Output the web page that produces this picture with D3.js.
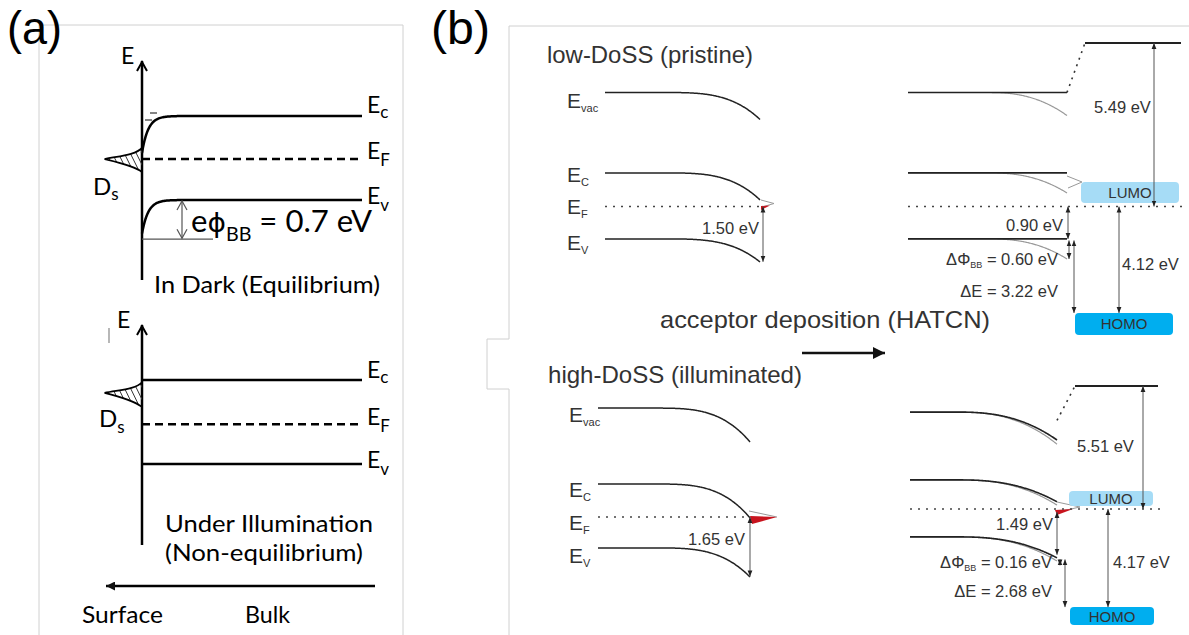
<!DOCTYPE html>
<html><head><meta charset="utf-8">
<script src="https://cdn.jsdelivr.net/npm/d3@7"></script>
<style>html,body{margin:0;padding:0;background:#fff;}svg{display:block;}</style>
</head><body>
<script>
// ================= DATA =================
// Panel (a): schematic energies in eV (bulk valence band = 0)
const aLevelSubs = ["c", "F", "v"];
const aDarkBulk = [1.5, 0.73, 0];
const aDarkSurf = [0.84, 0.73, -0.6];
const aDarkBB = 0.7;                       // eφBB
const aDarkDs = [0.93, 0.73, 0.5];          // surface-state DOS: top, peak, bottom
const aLightLevels = [1.5, 0.71, 0];
const aLightDs = [1.46, 1.27, 1.02];

// Panel (b): schematic energies in eV relative to EF
const bLevelSubs = ["vac", "C", "F", "V"];
const lowBulk = [3.8, 1.12, 0, -1.08];          // low-DoSS (pristine)
const lowBend = [0.9, 0.9, 0, 0.77];
const lowHatcnBend = [0.77, 0.67, 0, 0.67];     // after HATCN
const highBulk = [3.63, 1.1, 0, -1.03];         // high-DoSS (illuminated)
const highBend = [1.13, 1.13, 0, 0.97];
const highHatcnBulk = [3.23, 0.97, 0, -0.93];
const highHatcnBend = [0.93, 0.73, 0, 0.7];
const hatcnVac = [5.45, 4.1];                   // HATCN vacuum level (low, high)
const lumoLow = [0.82, 0.12], homoLow = [-3.55, -4.28];
const lumoHigh = [0.6, 0.1], homoHigh = [-3.27, -3.87];
const surfaceGap = [1.50, 1.65];                 // EF - EV at surface
const lowValues = [5.49, 0.90, 0.60, 3.22, 4.12];
const highValues = [5.51, 1.49, 0.16, 2.68, 4.17];

// ================= SETUP =================
const W = 1189, H = 635;
const svg = d3.select("body").append("svg").attr("width", W).attr("height", H);
const defs = svg.append("defs");
defs.append("marker").attr("id", "ah").attr("viewBox", "0 0 10 10")
  .attr("refX", 10).attr("refY", 5).attr("markerWidth", 6).attr("markerHeight", 6)
  .attr("markerUnits", "userSpaceOnUse").attr("orient", "auto-start-reverse")
  .append("path").attr("d", "M0,1 L10,5 L0,9 Z").attr("fill", "#222");
defs.append("marker").attr("id", "ahBig").attr("viewBox", "0 0 10 10")
  .attr("refX", 10).attr("refY", 5).attr("markerWidth", 13).attr("markerHeight", 12)
  .attr("markerUnits", "userSpaceOnUse").attr("orient", "auto")
  .append("path").attr("d", "M0,0 L10,5 L0,10 Z").attr("fill", "#111");
defs.append("marker").attr("id", "ahLeft").attr("viewBox", "0 0 10 10")
  .attr("refX", 10).attr("refY", 5).attr("markerWidth", 11).attr("markerHeight", 9)
  .attr("markerUnits", "userSpaceOnUse").attr("orient", "auto")
  .append("path").attr("d", "M0,0 L10,5 L0,10 Z").attr("fill", "#111");

function subLabel(g, x, y, main, sub, size, subSize, dy, fill, fam) {
  const t = g.append("text").attr("x", x).attr("y", y).attr("font-size", size)
    .attr("fill", fill || "#000");
  if (fam) t.attr("font-family", fam);
  t.append("tspan").text(main);
  t.append("tspan").attr("font-size", subSize).attr("dy", dy).text(sub);
  return t;
}
function txt(g, x, y, s, size, o = {}) {
  const t = g.append("text").attr("x", x).attr("y", y).attr("font-size", size).text(s);
  if (o.anchor) t.attr("text-anchor", o.anchor);
  if (o.fill) t.attr("fill", o.fill);
  if (o.len) t.attr("textLength", o.len).attr("lengthAdjust", "spacingAndGlyphs");
  if (o.fam) t.attr("font-family", o.fam);
  return t;
}

// Frames
svg.append("path").attr("d", "M39,635V25H403V635").attr("fill", "none")
  .attr("stroke", "#d0d0d0").attr("stroke-width", 1);
svg.append("path").attr("d", "M509,635V389H487V339H509V26H1189").attr("fill", "none")
  .attr("stroke", "#d0d0d0").attr("stroke-width", 1);

// Panel letters
txt(svg, 7, 44, "(a)", 46, {fam: "Liberation Sans, Arial, sans-serif", len: 55});
txt(svg, 431, 44, "(b)", 46, {fam: "Liberation Sans, Arial, sans-serif", len: 59});

// ================= PANEL (a) =================
const fA = "Lato, 'Open Sans', sans-serif";
const gA = svg.append("g").attr("font-family", fA);
const xA = d3.scaleLinear().domain([0, 1]).range([142, 362]);   // depth: surface(0) -> bulk(1)
const yDark = d3.scaleLinear().domain([0, 1.5]).range([200, 116]);
const yLight = d3.scaleLinear().domain([0, 1.5]).range([464, 380]);
const lam = 0.028;
const bandA = (bulk, surf) => d3.range(0, 1.0001, 0.004).map(d => [d, bulk + (surf - bulk) * Math.exp(-d / lam)]);

function axisA(g, y0, y1) {
  g.append("line").attr("x1", xA(0)).attr("x2", xA(0)).attr("y1", y1).attr("y2", y0)
    .attr("stroke", "#000").attr("stroke-width", 2.5);
  g.append("path").attr("d", `M${xA(0) - 5},${y0 + 10}L${xA(0)},${y0 + 1}L${xA(0) + 5},${y0 + 10}`)
    .attr("fill", "none").attr("stroke", "#000").attr("stroke-width", 2);
}
function dsShape(g, y, ds, id) {
  const x0 = xA(0), xt = xA(-0.17);
  const d = `M${x0},${y(ds[0])} C${x0 - 6},${y(ds[0]) + 7} ${xt + 14},${y(ds[1]) - 3} ${xt},${y(ds[1])} C${xt + 12},${y(ds[1]) + 3} ${x0 - 8},${y(ds[2]) - 6} ${x0},${y(ds[2])}`;
  g.append("clipPath").attr("id", id).append("path").attr("d", d + "Z");
  const hg = g.append("g").attr("clip-path", `url(#${id})`);
  d3.range(xt - 20, x0 + 5, 6).forEach(hx => {
    hg.append("line").attr("x1", hx).attr("y1", y(ds[0]) - 2).attr("x2", hx + 14).attr("y2", y(ds[2]) + 2)
      .attr("stroke", "#333").attr("stroke-width", 1);
  });
  g.append("path").attr("d", d).attr("fill", "none").attr("stroke", "#000").attr("stroke-width", 1.8);
}

// --- In dark ---
const lineDark = d3.line().x(d => xA(d[0])).y(d => yDark(d[1]));
axisA(gA, 61, 280);
txt(gA, 121, 64, "E", 23);
[0, 2].forEach(i => {
  gA.append("path").attr("d", lineDark(bandA(aDarkBulk[i], aDarkSurf[i])))
    .attr("fill", "none").attr("stroke", "#000").attr("stroke-width", 2.5);
});
gA.append("line").attr("x1", xA(0)).attr("x2", xA(1)).attr("y1", yDark(aDarkBulk[1])).attr("y2", yDark(aDarkBulk[1]))
  .attr("stroke", "#000").attr("stroke-width", 2.5).attr("stroke-dasharray", "8,5");
dsShape(gA, yDark, aDarkDs, "dsclip1");
// small minus marks near surface
gA.append("line").attr("x1", 150).attr("x2", 157).attr("y1", 113).attr("y2", 113).attr("stroke", "#333").attr("stroke-width", 1.2);
gA.append("line").attr("x1", 145).attr("x2", 152).attr("y1", 120).attr("y2", 120).attr("stroke", "#333").attr("stroke-width", 1.2);
// band bending marker
const bbY = yDark(-aDarkBB), evY = yDark(aDarkBulk[2]);
gA.append("line").attr("x1", xA(0)).attr("x2", 213).attr("y1", bbY).attr("y2", bbY).attr("stroke", "#555").attr("stroke-width", 1.2);
gA.append("line").attr("x1", 182).attr("x2", 182).attr("y1", evY + 1).attr("y2", bbY - 1).attr("stroke", "#555").attr("stroke-width", 1.2);
gA.append("path").attr("d", `M177,${evY + 10}L182,${evY + 1}L187,${evY + 10}M177,${bbY - 10}L182,${bbY - 1}L187,${bbY - 10}`)
  .attr("fill", "none").attr("stroke", "#555").attr("stroke-width", 1.2);
{
  const t = gA.append("text").attr("x", 191).attr("y", 232).attr("font-size", 30)
    .attr("textLength", 181).attr("lengthAdjust", "spacingAndGlyphs");
  t.append("tspan").text("e");
  t.append("tspan").attr("font-family", "DejaVu Sans").attr("font-size", 27).text("\u03D5");
  t.append("tspan").attr("font-size", 19).attr("dy", 9).text("BB");
  t.append("tspan").attr("dy", -9).text(" = " + aDarkBB.toFixed(1) + " eV");
}
const aLabOff = [-3, 0, 4];
const aSubDy = [5, 7, 7];
aLevelSubs.forEach((s, i) => subLabel(gA, 367, yDark(aDarkBulk[i]) + aLabOff[i], "E", s, 23, 17, aSubDy[i]));
subLabel(gA, 93, 195, "D", "s", 24, 17, 5);
txt(gA, 154, 293, "In Dark (Equilibrium)", 24, {len: 226});

// --- Under illumination ---
axisA(gA, 325, 545);
txt(gA, 117, 328, "E", 23);
gA.append("line").attr("x1", 109).attr("x2", 109).attr("y1", 328).attr("y2", 343).attr("stroke", "#888").attr("stroke-width", 1.2);
[0, 2].forEach(i => {
  gA.append("line").attr("x1", xA(0)).attr("x2", xA(1)).attr("y1", yLight(aLightLevels[i])).attr("y2", yLight(aLightLevels[i]))
    .attr("stroke", "#000").attr("stroke-width", 2.5);
});
gA.append("line").attr("x1", xA(0)).attr("x2", xA(1)).attr("y1", yLight(aLightLevels[1])).attr("y2", yLight(aLightLevels[1]))
  .attr("stroke", "#000").attr("stroke-width", 2.5).attr("stroke-dasharray", "8,5");
dsShape(gA, yLight, aLightDs, "dsclip2");
const aLabOff2 = [-2, 1, 4];
aLevelSubs.forEach((s, i) => subLabel(gA, 367, yLight(aLightLevels[i]) + aLabOff2[i], "E", s, 23, 17, aSubDy[i]));
subLabel(gA, 99, 427, "D", "s", 24, 17, 6);
txt(gA, 165, 532, "Under Illumination", 24, {len: 208});
txt(gA, 165, 561, "(Non-equilibrium)", 24, {len: 198});
gA.append("line").attr("x1", 375).attr("x2", 106).attr("y1", 586).attr("y2", 586)
  .attr("stroke", "#000").attr("stroke-width", 2.5).attr("marker-end", "url(#ahLeft)");
txt(gA, 82, 623, "Surface", 24, {len: 81});
txt(gA, 245, 623, "Bulk", 24, {len: 45});

// ================= PANEL (b) =================
const fB = "Liberation Sans, Arial, sans-serif";
const gB = svg.append("g").attr("font-family", fB).attr("fill", "#333");
const yLow = d3.scaleLinear().domain([0, 1]).range([206.5, 176.5]);
const yHighL = d3.scaleLinear().domain([0, 1]).range([517, 487]);
const yHighR = d3.scaleLinear().domain([0, 1]).range([509, 479]);
const xLowL = d3.scaleLinear().domain([1, 0]).range([605, 760]);   // bulk(1) -> surface(0)
const xLowR = d3.scaleLinear().domain([1, 0]).range([908, 1067]);
const xHighL = d3.scaleLinear().domain([1, 0]).range([598, 750]);
const xHighR = d3.scaleLinear().domain([1, 0]).range([910, 1057]);

function bent(bulk, bend, dL, p) {
  return d3.range(1, -0.0001, -0.005).map(d => [d, bulk - bend * Math.pow(Math.max(0, 1 - d / dL), p)]);
}
function drawLine(g, x, y, pts, color, w) {
  g.append("path").attr("d", d3.line().x(d => x(d[0])).y(d => y(d[1]))(pts))
    .attr("fill", "none").attr("stroke", color).attr("stroke-width", w);
}
function dotted(g, x1, x2, y) {
  g.append("line").attr("x1", x1).attr("x2", x2).attr("y1", y).attr("y2", y)
    .attr("stroke", "#444").attr("stroke-width", 1.6).attr("stroke-dasharray", "2,6");
}
function arrow(g, x, y1, y2) {
  g.append("line").attr("x1", x).attr("x2", x).attr("y1", y1).attr("y2", y2)
    .attr("stroke", "#555").attr("stroke-width", 1)
    .attr("marker-start", "url(#ah)").attr("marker-end", "url(#ah)");
}
function dPhi(g, x, y, v) {
  const t = g.append("text").attr("x", x).attr("y", y).attr("font-size", 16.5).attr("text-anchor", "end");
  t.append("tspan").text("\u0394\u03A6");
  t.append("tspan").attr("font-size", 9).attr("dy", 3).text("BB");
  t.append("tspan").attr("dy", -3).text(" = " + v.toFixed(2) + " eV");
}
function box(g, x1, x2, y1, y2, color, label) {
  g.append("rect").attr("x", x1).attr("y", y1).attr("width", x2 - x1).attr("height", y2 - y1)
    .attr("rx", 4).attr("fill", color);
  g.append("text").attr("x", (x1 + x2) / 2).attr("y", (y1 + y2) / 2 + 5.5).attr("text-anchor", "middle")
    .attr("font-size", 15).attr("fill", "#333").text(label);
}
const fmt = v => v.toFixed(2) + " eV";

// titles
txt(gB, 547, 63, "low-DoSS (pristine)", 24, {len: 206});
txt(gB, 660, 328, "acceptor deposition (HATCN)", 24, {len: 330});
txt(gB, 548, 383, "high-DoSS (illuminated)", 24, {len: 254});
gB.append("line").attr("x1", 802).attr("x2", 885).attr("y1", 353).attr("y2", 353)
  .attr("stroke", "#111").attr("stroke-width", 2.6).attr("marker-end", "url(#ahBig)");

// ---- low-DoSS, pristine (top-left) ----
[0, 1, 3].forEach(i => drawLine(gB, xLowL, yLow, bent(lowBulk[i], lowBend[i], 100 / 155, 3.5), "#222", 1.5));
dotted(gB, xLowL(1), xLowL(0), yLow(0));
gB.append("path").attr("d", `M761,200L774,203.5L762,207`).attr("fill", "none").attr("stroke", "#999").attr("stroke-width", 1);
gB.append("path").attr("d", `M761,206L770,205.5L761,210Z`).attr("fill", "#c8141e");
arrow(gB, 763, yLow(0), yLow(-surfaceGap[0] * 1.23));
txt(gB, 759, 234, fmt(surfaceGap[0]), 16.5, {anchor: "end"});
const lowLabOff = [15, 9, 7, 11];
bLevelSubs.forEach((s, i) => subLabel(gB, 567, yLow(lowBulk[i]) + lowLabOff[i], "E", s, 21, 11, 4, "#333"));

// ---- low-DoSS + HATCN (top-right) ----
[0, 1, 3].forEach(i => {
  drawLine(gB, xLowR, yLow, bent(lowBulk[i], lowHatcnBend[i], 80 / 159, 2.5), "#999", 1.2);
  gB.append("line").attr("x1", xLowR(1)).attr("x2", xLowR(0)).attr("y1", yLow(lowBulk[i])).attr("y2", yLow(lowBulk[i]))
    .attr("stroke", "#222").attr("stroke-width", 1.6);
});
gB.append("path").attr("d", `M1067,176L1082,182L1068,188`).attr("fill", "none").attr("stroke", "#999").attr("stroke-width", 1);
box(gB, 1081, 1179, yLow(lumoLow[0]), yLow(lumoLow[1]), "#a6dcf6", "LUMO");
box(gB, 1075, 1173, yLow(homoLow[0]), yLow(homoLow[1]), "#00aeef", "HOMO");
dotted(gB, xLowR(1), 1182, yLow(0));
gB.append("line").attr("x1", xLowR(0)).attr("y1", yLow(lowBulk[0])).attr("x2", 1085).attr("y2", yLow(hatcnVac[0]))
  .attr("stroke", "#333").attr("stroke-width", 1.6).attr("stroke-dasharray", "2,5");
gB.append("line").attr("x1", 1085).attr("x2", 1181).attr("y1", yLow(hatcnVac[0])).attr("y2", yLow(hatcnVac[0]))
  .attr("stroke", "#222").attr("stroke-width", 2);
arrow(gB, 1154, yLow(hatcnVac[0]), yLow(0));
txt(gB, 1094, 113, fmt(lowValues[0]), 16.5);
arrow(gB, 1068, yLow(0), yLow(lowBulk[3]));
txt(gB, 1063, 231, fmt(lowValues[1]), 16.5, {anchor: "end"});
arrow(gB, 1069, yLow(lowBulk[3] - 0.05), yLow(lowBulk[3] - lowHatcnBend[3]));
dPhi(gB, 1058, 265, lowValues[2]);
arrow(gB, 1074, yLow(lowBulk[3] - 0.05), yLow(homoLow[0]));
txt(gB, 1058, 297, "\u0394E = " + fmt(lowValues[3]), 16.5, {anchor: "end"});
arrow(gB, 1119, yLow(0), yLow(homoLow[0]));
txt(gB, 1122, 270, fmt(lowValues[4]), 16.5);

// ---- high-DoSS, illuminated (bottom-left) ----
[0, 1, 3].forEach(i => drawLine(gB, xHighL, yHighL, bent(highBulk[i], highBend[i], 100 / 152, 3.5), "#222", 1.5));
dotted(gB, xHighL(1), xHighL(0), yHighL(0));
gB.append("path").attr("d", `M749,511L777,517`).attr("fill", "none").attr("stroke", "#999").attr("stroke-width", 1);
gB.append("path").attr("d", `M750,516L777,517L752,524Z`).attr("fill", "#c8141e");
arrow(gB, 750, yHighL(0), yHighL(-surfaceGap[1] * 1.2));
txt(gB, 745, 545, fmt(surfaceGap[1]), 16.5, {anchor: "end"});
const highLabOff = [14, 13, 13, 15];
bLevelSubs.forEach((s, i) => subLabel(gB, 569, yHighL(highBulk[i]) + highLabOff[i], "E", s, 21, 11, 4, "#333"));

// ---- high-DoSS + HATCN (bottom-right) ----
[0, 1, 3].forEach(i => {
  drawLine(gB, xHighR, yHighR, bent(highHatcnBulk[i], highHatcnBend[i] * 1.15, 100 / 147, 2.5), "#999", 1.2);
  drawLine(gB, xHighR, yHighR, bent(highHatcnBulk[i], highHatcnBend[i], 100 / 147, 2.5), "#222", 1.6);
});
gB.append("path").attr("d", `M1057,502L1080,507L1057,512`).attr("fill", "none").attr("stroke", "#999").attr("stroke-width", 1);
gB.append("path").attr("d", `M1055,510L1073,509L1057,515Z`).attr("fill", "#c8141e");
box(gB, 1069, 1153, yHighR(lumoHigh[0]), yHighR(lumoHigh[1]), "#a6dcf6", "LUMO");
box(gB, 1070, 1154, yHighR(homoHigh[0]), yHighR(homoHigh[1]), "#00aeef", "HOMO");
dotted(gB, xHighR(1), 1160, yHighR(0));
gB.append("line").attr("x1", xHighR(0)).attr("y1", yHighR(highHatcnBulk[0] - highHatcnBend[0] * 0.3)).attr("x2", 1075).attr("y2", yHighR(hatcnVac[1]))
  .attr("stroke", "#333").attr("stroke-width", 1.6).attr("stroke-dasharray", "2,5");
gB.append("line").attr("x1", 1075).attr("x2", 1158).attr("y1", yHighR(hatcnVac[1])).attr("y2", yHighR(hatcnVac[1]))
  .attr("stroke", "#222").attr("stroke-width", 2);
arrow(gB, 1143, yHighR(hatcnVac[1]), yHighR(0));
txt(gB, 1077, 452, fmt(highValues[0]), 16.5);
arrow(gB, 1057, yHighR(-0.1), yHighR(highHatcnBulk[3] - highHatcnBend[3] * 0.85));
txt(gB, 1053, 530, fmt(highValues[1]), 16.5, {anchor: "end"});
arrow(gB, 1060, yHighR(highHatcnBulk[3] - highHatcnBend[3] - 0.05), yHighR(highHatcnBulk[3] - highHatcnBend[3] - 0.25));
dPhi(gB, 1052, 568, highValues[2]);
arrow(gB, 1065, yHighR(highHatcnBulk[3] - highHatcnBend[3] - 0.05), yHighR(homoHigh[0]));
txt(gB, 1052, 597, "\u0394E = " + fmt(highValues[3]), 16.5, {anchor: "end"});
arrow(gB, 1108, yHighR(0), yHighR(homoHigh[0]));
txt(gB, 1113, 568, fmt(highValues[4]), 16.5);
</script>
</body></html>
